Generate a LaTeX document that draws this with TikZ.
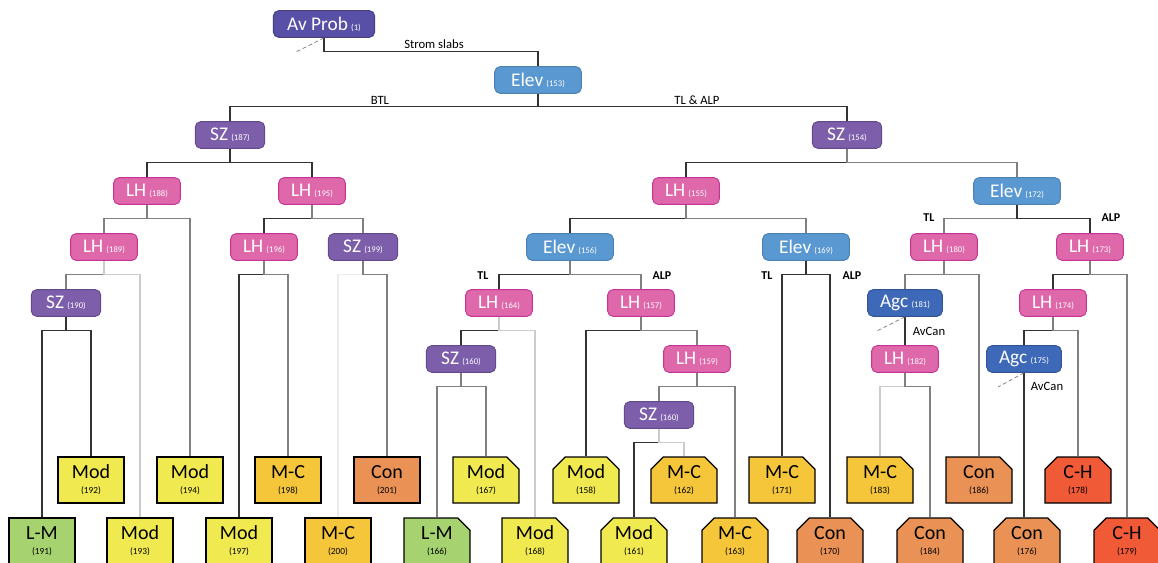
\documentclass[tikz,border=0pt]{standalone}
\usepackage{fontspec}
\setmainfont{Carlito}
\usetikzlibrary{shapes.misc}
\definecolor{avpurple}{RGB}{88,79,166}
\definecolor{elevblue}{RGB}{90,152,209}
\definecolor{szpurple}{RGB}{125,94,170}
\definecolor{lhpink}{RGB}{222,104,170}
\definecolor{lhborder}{RGB}{200,50,150}
\definecolor{agcblue}{RGB}{62,105,184}
\definecolor{modyellow}{RGB}{240,234,80}
\definecolor{mcorange}{RGB}{245,198,58}
\definecolor{conorange}{RGB}{234,146,86}
\definecolor{chred}{RGB}{240,90,55}
\definecolor{lmgreen}{RGB}{166,210,112}
\newcommand{\nid}[1]{\,{\fontsize{6.5}{7}\selectfont(#1)}}
\newcommand{\lid}[1]{\\[-3.5pt]{\fontsize{7}{8}\selectfont(#1)}}

\begin{document}
\begin{tikzpicture}[x=0.75pt, y=-0.75pt,
    tnode/.style={rectangle, rounded corners=4pt, minimum height=20pt, inner sep=0pt, text=white, font=\fontsize{14.5}{15}\selectfont, line width=0.7pt},
    avbox/.style={tnode, fill=avpurple, draw=avpurple!80!black, minimum width=76pt},
    elevbox/.style={tnode, fill=elevblue, draw=elevblue!85!black, minimum width=65pt},
    szbox/.style={tnode, fill=szpurple, draw=szpurple!80!black, minimum width=52pt},
    lhbox/.style={tnode, fill=lhpink, draw=lhborder, minimum width=50pt},
    agcbox/.style={tnode, fill=agcblue, draw=agcblue!80!black, minimum width=56pt},
    leaf/.style={rectangle, draw=black, line width=1pt, minimum width=49.5pt, minimum height=34.5pt, inner sep=0pt, align=center, font=\fontsize{15}{15}\selectfont},
    modleaf/.style={leaf, fill=modyellow},
    mcleaf/.style={leaf, fill=mcorange},
    conleaf/.style={leaf, fill=conorange},
    chleaf/.style={leaf, fill=chred},
    lmleaf/.style={leaf, fill=lmgreen},
    cutr/.style={chamfered rectangle, chamfered rectangle xsep=6pt, chamfered rectangle corners={north east}},
    cutb/.style={chamfered rectangle, chamfered rectangle xsep=6pt, chamfered rectangle corners={north east, north west}},
    branch/.style={black!80, line width=0.8pt},
    graybranch/.style={black!50, line width=0.8pt},
    lightbranch/.style={black!20, line width=0.8pt},
    hint/.style={densely dashed, black!55, line width=0.5pt},
    splitlabel/.style={font=\fontsize{9.5}{10}\selectfont, inner sep=1pt},
    sidelabel/.style={font=\bfseries\fontsize{9}{10}\selectfont, inner sep=1pt}
]
\fill[white] (0,0) rectangle (1158,563);
\useasboundingbox (0,0) rectangle (1158,563);
% Top splits
\node[avbox] (avprob) at (324,24) {Av Prob\nid{1}};
\node[elevbox] (elev153) at (538,80) {Elev\nid{153}};
\node[szbox] (sz187) at (230,135) {SZ\nid{187}};
\node[szbox] (sz154) at (847,135) {SZ\nid{154}};
% Below treeline
\node[lhbox] (lh188) at (147,191) {LH\nid{188}};
\node[lhbox] (lh195) at (312,191) {LH\nid{195}};
\node[lhbox] (lh189) at (104,247) {LH\nid{189}};
\node[lhbox] (lh196) at (264,247) {LH\nid{196}};
\node[szbox] (sz199) at (363,247) {SZ\nid{199}};
\node[szbox] (sz190) at (66,303) {SZ\nid{190}};
% Treeline and alpine
\node[lhbox] (lh155) at (686,191) {LH\nid{155}};
\node[elevbox] (elev172) at (1017,191) {Elev\nid{172}};
\node[elevbox] (elev156) at (570,247) {Elev\nid{156}};
\node[elevbox] (elev169) at (806,247) {Elev\nid{169}};
\node[lhbox] (lh180) at (944,247) {LH\nid{180}};
\node[lhbox] (lh173) at (1090,247) {LH\nid{173}};
\node[lhbox] (lh164) at (499,303) {LH\nid{164}};
\node[lhbox] (lh157) at (641,303) {LH\nid{157}};
\node[agcbox] (agc181) at (905,303) {Agc\nid{181}};
\node[lhbox] (lh174) at (1053,303) {LH\nid{174}};
\node[szbox] (sz160) at (461,359) {SZ\nid{160}};
\node[lhbox] (lh159) at (697,359) {LH\nid{159}};
\node[lhbox] (lh182) at (905,359) {LH\nid{182}};
\node[agcbox] (agc175) at (1024,359) {Agc\nid{175}};
\node[szbox] (sz160b) at (659,415) {SZ\nid{160}};
% Danger ratings, upper row
\node[modleaf] (mod192) at (91,480) {Mod\lid{192}};
\node[modleaf] (mod194) at (190,480) {Mod\lid{194}};
\node[mcleaf] (mc198) at (288,480) {M-C\lid{198}};
\node[conleaf] (con201) at (387,480) {Con\lid{201}};
\node[modleaf, cutr] (mod167) at (486,480) {Mod\lid{167}};
\node[modleaf, cutb] (mod158) at (586,480) {Mod\lid{158}};
\node[mcleaf, cutb] (mc162) at (684,480) {M-C\lid{162}};
\node[mcleaf, cutr] (mc171) at (782,480) {M-C\lid{171}};
\node[mcleaf, cutr] (mc183) at (880,480) {M-C\lid{183}};
\node[conleaf, cutr] (con186) at (979,480) {Con\lid{186}};
\node[chleaf, cutb] (ch178) at (1078,480) {C-H\lid{178}};
% Danger ratings, lower row
\node[lmleaf] (lm191) at (42,541) {L-M\lid{191}};
\node[modleaf] (mod193) at (140,541) {Mod\lid{193}};
\node[modleaf] (mod197) at (239,541) {Mod\lid{197}};
\node[mcleaf] (mc200) at (338,541) {M-C\lid{200}};
\node[lmleaf, cutr] (lm166) at (437,541) {L-M\lid{166}};
\node[modleaf, cutr] (mod168) at (535,541) {Mod\lid{168}};
\node[modleaf, cutb] (mod161) at (634,541) {Mod\lid{161}};
\node[mcleaf, cutb] (mc163) at (735,541) {M-C\lid{163}};
\node[conleaf, cutb] (con170) at (830,541) {Con\lid{170}};
\node[conleaf, cutb] (con184) at (930,541) {Con\lid{184}};
\node[conleaf, cutb] (con176) at (1027,541) {Con\lid{176}};
\node[chleaf, cutb] (ch179) at (1127,541) {C-H\lid{179}};
% Connectors
\draw[branch] (avprob.south) -- ++(0,14) -| (elev153.north);
\draw[branch] (elev153.south) -- ++(0,13) -| (sz187.north);
\draw[branch] (elev153.south) -- ++(0,13) -| (sz154.north);
\draw[branch] (sz187.south) -- ++(0,14) -| (lh188.north);
\draw[branch] (sz187.south) -- ++(0,14) -| (lh195.north);
\draw[branch] (sz154.south) -- ++(0,14) -| (lh155.north);
\draw[graybranch] (sz154.south) -- ++(0,14) -| (elev172.north);
\draw[graybranch] (lh188.south) -- ++(0,14) -| (lh189.north);
\draw[graybranch] (lh188.south) -- ++(0,14) -| (mod194.north);
\draw[branch] (lh195.south) -- ++(0,14) -| (lh196.north);
\draw[graybranch] (lh195.south) -- ++(0,14) -| (sz199.north);
\draw[graybranch] (lh189.south) -- ++(0,14) -| (sz190.north);
\draw[lightbranch] (lh189.south) -- ++(0,14) -| (mod193.north);
\draw[branch] (sz190.south) -- ++(0,14) -| (lm191.north);
\draw[branch] (sz190.south) -- ++(0,14) -| (mod192.north);
\draw[branch] (lh196.south) -- ++(0,14) -| (mod197.north);
\draw[graybranch] (lh196.south) -- ++(0,14) -| (mc198.north);
\draw[black!8, line width=0.8pt] (sz199.south) -- ++(0,14) -| (mc200.north);
\draw[graybranch] (sz199.south) -- ++(0,14) -| (con201.north);
\draw[branch] (lh155.south) -- ++(0,14) -| (elev156.north);
\draw[graybranch] (lh155.south) -- ++(0,14) -| (elev169.north);
\draw[branch] (elev156.south) -- ++(0,14) -| (lh164.north);
\draw[graybranch] (elev156.south) -- ++(0,14) -| (lh157.north);
\draw[branch] (elev169.south) -- ++(0,14) -| (mc171.north);
\draw[branch] (elev169.south) -- ++(0,14) -| (con170.north);
\draw[graybranch] (elev172.south) -- ++(0,14) -| (lh180.north);
\draw[branch] (elev172.south) -- ++(0,14) -| (lh173.north);
\draw[branch] (lh164.south) -- ++(0,14) -| (sz160.north);
\draw[lightbranch] (lh164.south) -- ++(0,14) -| (mod168.north);
\draw[graybranch] (sz160.south) -- ++(0,14) -| (lm166.north);
\draw[graybranch] (sz160.south) -- ++(0,14) -| (mod167.north);
\draw[branch] (lh157.south) -- ++(0,14) -| (mod158.north);
\draw[graybranch] (lh157.south) -- ++(0,14) -| (lh159.north);
\draw[graybranch] (lh159.south) -- ++(0,14) -| (sz160b.north);
\draw[graybranch] (lh159.south) -- ++(0,14) -| (mc163.north);
\draw[branch] (sz160b.south) -- ++(0,14) -| (mod161.north);
\draw[lightbranch] (sz160b.south) -- ++(0,14) -| (mc162.north);
\draw[graybranch] (lh180.south) -- ++(0,14) -| (agc181.north);
\draw[graybranch] (lh180.south) -- ++(0,14) -| (con186.north);
\draw[branch] (agc181.south) -- (lh182.north);
\draw[lightbranch] (lh182.south) -- ++(0,14) -| (mc183.north);
\draw[graybranch] (lh182.south) -- ++(0,14) -| (con184.north);
\draw[branch] (lh173.south) -- ++(0,14) -| (lh174.north);
\draw[graybranch] (lh173.south) -- ++(0,14) -| (ch179.north);
\draw[branch] (lh174.south) -- ++(0,14) -| (agc175.north);
\draw[graybranch] (lh174.south) -- ++(0,14) -| (ch178.north);
\draw[branch] (agc175.south) -- (agc175.south |- con176.north);
% Dashed hints
\coordinate (hintav) at (296,52);
\coordinate (hint181) at (877,331);
\coordinate (hint175) at (998,387);
\draw[hint] (avprob.south) -- (hintav);
\draw[hint] (agc181.south) -- (hint181);
\draw[hint] (agc175.south) -- (hint175);
% Split labels
\node[splitlabel] (lstrom) at (434,44) {Strom slabs};
\node[splitlabel] (lbtl) at (380,100) {BTL};
\node[splitlabel] (ltlalp) at (697,100) {TL \& ALP};
\node[sidelabel] (ltl156) at (483,276) {TL};
\node[sidelabel] (lalp156) at (662,276) {ALP};
\node[sidelabel] (ltl169) at (767,276) {TL};
\node[sidelabel] (lalp169) at (852,276) {ALP};
\node[sidelabel] (ltl172) at (929,218) {TL};
\node[sidelabel] (lalp172) at (1111,218) {ALP};
\node[splitlabel] (lav181) at (929,331) {AvCan};
\node[splitlabel] (lav175) at (1047,386) {AvCan};
\end{tikzpicture}
\end{document}
